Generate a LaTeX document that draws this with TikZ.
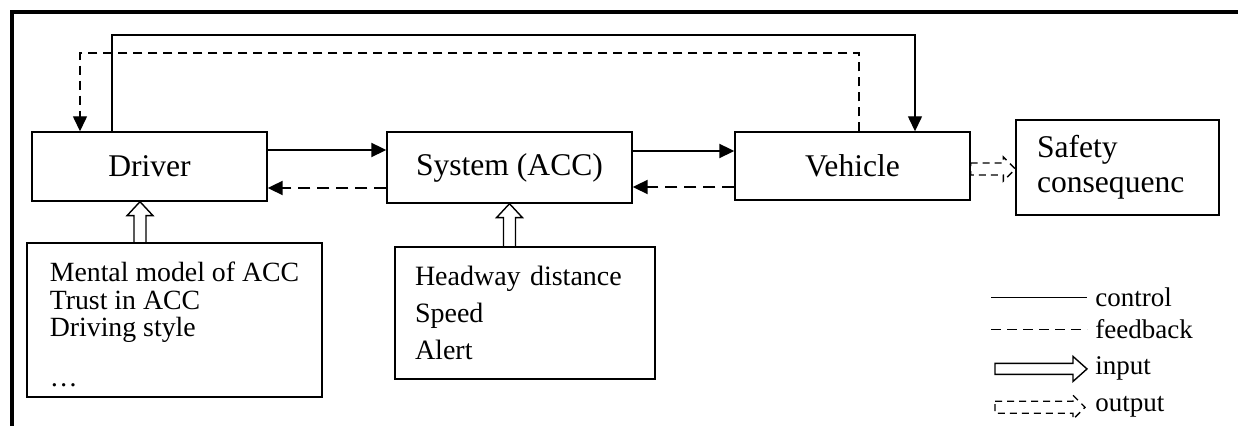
\documentclass[tikz,border=0pt]{standalone}
\usepackage{fontspec}
\setmainfont{Liberation Serif}
\usetikzlibrary{arrows.meta,calc}

\tikzset{
  box/.style={draw, line width=0.7pt, inner sep=0pt, font=\fontsize{15.8}{17.5}\selectfont},
  listbox/.style={draw, line width=0.7pt, align=left, inner xsep=10pt, inner ysep=0pt},
  ctrl/.style={line width=1pt, ->},
  fdbk/.style={line width=1pt, dash pattern=on 6pt off 3.5pt, ->},
  inarrow/.style={line width=0.7pt},
  outarrow/.style={line width=0.7pt, dash pattern=on 3.5pt off 2.5pt},
  legend/.style={font=\fontsize{13.5}{13.5}\selectfont, inner sep=0pt, anchor=base west}
}

% hollow input arrow pointing up: #1 tail, #2 tip
\newcommand{\inarrowup}[2]{%
  \draw[inarrow] let \p1=(#1), \p2=(#2) in
    (\x1-3pt,\y1) -- (\x1-3pt,\y2-7pt) -- (\x1-6.5pt,\y2-7pt) -- (\x1,\y2)
    -- (\x1+6.5pt,\y2-7pt) -- (\x1+3pt,\y2-7pt) -- (\x1+3pt,\y1);}
% hollow input arrow pointing right (legend)
\newcommand{\inarrowright}[2]{%
  \draw[inarrow] let \p1=(#1), \p2=(#2) in
    (\x1,\y1+2.75pt) -- (\x2-7pt,\y1+2.75pt) -- (\x2-7pt,\y1+6.25pt) -- (\x2,\y1)
    -- (\x2-7pt,\y1-6.25pt) -- (\x2-7pt,\y1-2.75pt) -- (\x1,\y1-2.75pt) -- cycle;}
% dashed output arrow pointing right
\newcommand{\outarrowright}[2]{%
  \draw[outarrow] let \p1=(#1), \p2=(#2) in
    (\x1,\y1+3pt) -- (\x2-6pt,\y1+3pt) -- (\x2-6pt,\y1+6pt) -- (\x2,\y1)
    -- (\x2-6pt,\y1-6pt) -- (\x2-6pt,\y1-3pt) -- (\x1,\y1-3pt) -- cycle;}

\begin{document}
\begin{tikzpicture}[x=0.5pt, y=-0.5pt, >={Triangle[length=7.5pt,width=7pt]}]
  \useasboundingbox (0,0) rectangle (1238,426);

  % frame
  \draw[line width=2pt] (12,432) -- (12,12) -- (1244,12);

  % main blocks
  \node[box, minimum width=117.5pt, minimum height=34.5pt] (drv) at (149.5,166.5) {Driver};
  \node[box, minimum width=122.5pt, minimum height=35.5pt] (sys) at (509.5,167.5) {System (ACC)};
  \node[box, minimum width=117.5pt, minimum height=34pt] (veh) at (852.5,166) {Vehicle};
  \node[box, minimum height=47.5pt, text width=80.5pt, align=left, inner xsep=10.5pt]
    (safe) at (1117.5,167.5) {Safety\\consequenc};

  % input blocks
  \node[listbox, minimum width=147.5pt, minimum height=77pt, font=\fontsize{13.9}{13.9}\selectfont]
    (drvin) at (174.5,320) {\rule{0pt}{14pt}Mental model of ACC\\Trust in ACC\\Driving style\\[10.75pt]…};
  \node[listbox, text width=110pt, minimum height=66pt, font=\fontsize{14}{18.5}\selectfont]
    (sysin) at (525,313) {Headway distance\\Speed\\Alert};

  % outer control / feedback loop
  \coordinate (ctrlL) at (112,35);
  \coordinate (ctrlR) at (915,35);
  \draw[ctrl, line width=0.7pt] (drv.north -| ctrlL) -- (ctrlL) -- (ctrlR) -- (veh.north -| ctrlR);
  \coordinate (fbR) at (859,53);
  \coordinate (fbL) at (80,53);
  \draw[fdbk, line width=0.7pt, dash pattern=on 4.5pt off 3pt] (veh.north -| fbR) -- (fbR) -- (fbL) -- (drv.north -| fbL);

  % block to block
  \draw[ctrl] ([yshift=8.25pt]drv.east) -- ([yshift=8.25pt]drv.east -| sys.west);
  \draw[fdbk] ([yshift=-10.25pt]sys.west) -- ([yshift=-10.25pt]sys.west -| drv.east);
  \draw[ctrl] ([yshift=8.25pt]sys.east) -- ([yshift=8.25pt]sys.east -| veh.west);
  \draw[fdbk] ([yshift=-10.5pt]veh.west) -- ([yshift=-10.5pt]veh.west -| sys.east);

  % inputs and output
  \coordinate (drvtip) at ([xshift=-4.75pt]drv.south);
  \inarrowup{drvin.north -| drvtip}{drvtip}
  \inarrowup{sysin.north -| sys.south}{sys.south}
  \outarrowright{[yshift=-1.5pt]veh.east}{[yshift=-1.5pt]safe.west}

  % legend
  \node[legend] (lgctrl) at (1095,307) {control};
  \node[legend] (lgfb) at (1095,339) {feedback};
  \node[legend] (lgin) at (1095,375) {input};
  \node[legend] (lgout) at (1095,412) {output};
  \draw[line width=0.7pt] ([xshift=-52pt]lgctrl.west) -- ([xshift=-4pt]lgctrl.west);
  \draw[line width=0.7pt, dash pattern=on 5pt off 3pt] ([xshift=-52pt]lgfb.west) -- ([xshift=-4pt]lgfb.west);
  \inarrowright{[xshift=-50pt]lgin.west}{[xshift=-4pt]lgin.west}
  \outarrowright{[xshift=-50pt]lgout.west}{[xshift=-5pt]lgout.west}
\end{tikzpicture}
\end{document}
